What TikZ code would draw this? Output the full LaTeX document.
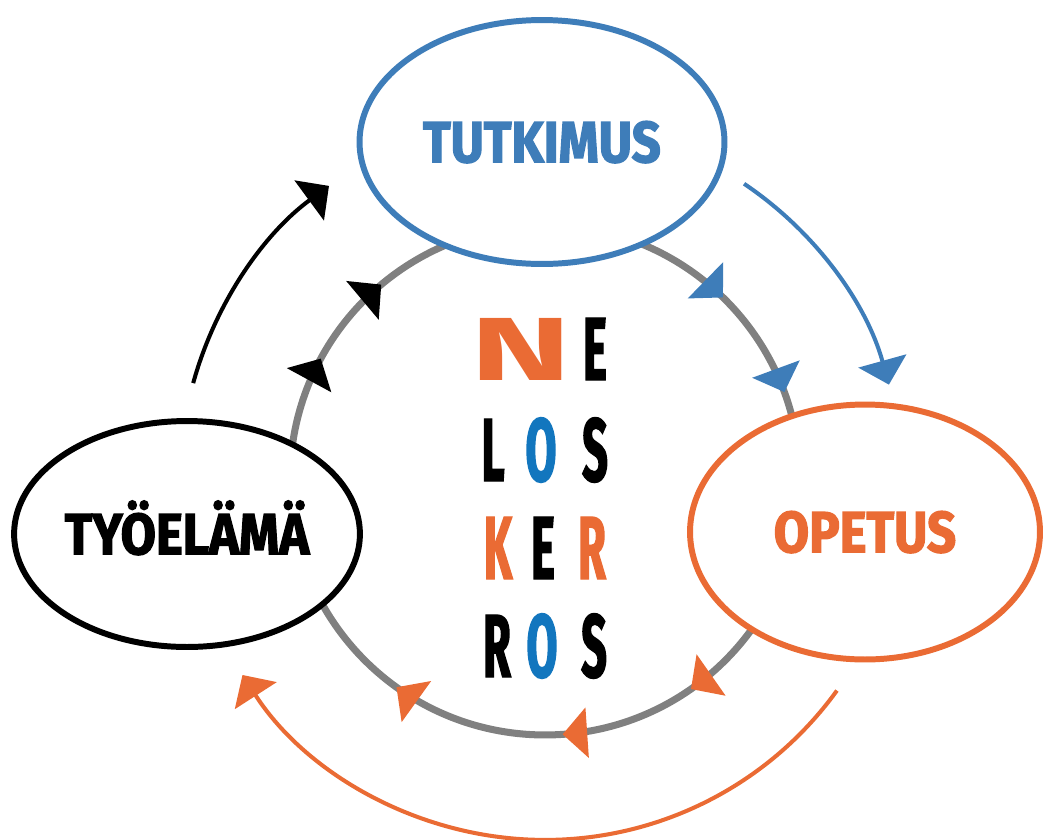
\documentclass[tikz,border=0pt]{standalone}
\usepackage{fontspec}
\usetikzlibrary{arrows.meta,shapes.geometric,decorations.markings}
\newfontfamily\labelfont{Fira Sans}[FakeStretch=0.88,FakeBold=2.2]
\newfontfamily\letterfont{Fira Sans}[FakeStretch=0.5,FakeBold=1.5]
\newfontfamily\widefont{Fira Sans}[FakeStretch=1.7]
\definecolor{tutblue}{RGB}{62,125,185}
\definecolor{opeorange}{RGB}{234,107,52}
\definecolor{ringgray}{RGB}{128,128,128}
\definecolor{letblue}{RGB}{18,118,190}
\tikzset{
    field/.style={ellipse,draw,line width=3.4pt,fill=white,inner sep=0pt,
        font=\labelfont\bfseries\fontsize{33}{33}\selectfont,
        text height=23pt,text depth=0pt},
    letter/.style={inner sep=0pt,font=\letterfont\bfseries\fontsize{51}{51}\selectfont},
    flow/.style={line width=2.3pt,-{Triangle[width=28pt,length=14pt]}},
}
\begin{document}
\begin{tikzpicture}[x=0.02cm,y=0.02cm]
    \useasboundingbox (0,0) rectangle (1047,-839);
    \coordinate (hub) at (545,-480);

    % inner ring
    \draw[ringgray,line width=4pt,postaction={decorate},decoration={markings,
            mark=at position 0.123 with {\arrow{Triangle[width=28pt,length=14pt,color=tutblue]}},
            mark=at position 0.194 with {\arrow{Triangle[width=28pt,length=14pt,color=tutblue]}},
            mark=at position 0.403 with {\arrow{Triangle[width=28pt,length=14pt,color=opeorange]}},
            mark=at position 0.489 with {\arrow{Triangle[width=28pt,length=14pt,color=opeorange]}},
            mark=at position 0.599 with {\arrow{Triangle[width=28pt,length=14pt,color=opeorange]}},
            mark=at position 0.829 with {\arrow{Triangle[width=28pt,length=14pt,color=black]}},
            mark=at position 0.889 with {\arrow{Triangle[width=28pt,length=14pt,color=black]}}}]
        (hub) ++(90:5.1cm) arc[start angle=90,end angle=-270,radius=5.1cm];

    \node[field,draw=tutblue,text=tutblue,minimum width=7.3cm,minimum height=4.88cm]
        (tutkimus) at (542,-142) {TUTKIMUS};
    \node[field,minimum width=6.82cm,minimum height=4.52cm]
        (tyoelama) at (187,-534) {TYÖELÄMÄ};
    \node[field,draw=opeorange,text=opeorange,minimum width=7.0cm,minimum height=5.1cm]
        (opetus) at (865,-532) {OPETUS};

    % outer arrows
    \path (hub) ++(164.6:7.3cm) coordinate (tyo2tut)
          (hub) ++(56.1:7.14cm) coordinate (tut2ope)
          (hub) ++(-35.8:7.2cm) coordinate (ope2tyo);
    \draw[flow,black] (tyo2tut) arc[start angle=164.6,end angle=126.3,radius=7.3cm];
    \draw[flow,tutblue] (tut2ope) arc[start angle=56.1,end angle=15.5,radius=7.14cm];
    \draw[flow,opeorange] (ope2tyo) arc[start angle=-35.8,end angle=-147.2,radius=7.2cm];

    % NELOSKERROS
    \path (521,-349) node(n1)[letter,text=opeorange,font=\widefont\bfseries\fontsize{51}{51}\selectfont] {N}
          (595,-349) node(e1)[letter] {E}
          (493,-450) node(l2)[letter] {L}
          (541,-450) node(o2)[letter,text=letblue] {O}
          (595,-450) node(s2)[letter] {S}
          (498,-548) node(k3)[letter,text=opeorange] {K}
          (543,-548) node(e3)[letter] {E}
          (592,-548) node(r3)[letter,text=opeorange] {R}
          (497,-646) node(r4)[letter] {R}
          (542,-646) node(o4)[letter,text=letblue] {O}
          (594,-646) node(s4)[letter] {S};
\end{tikzpicture}
\end{document}
